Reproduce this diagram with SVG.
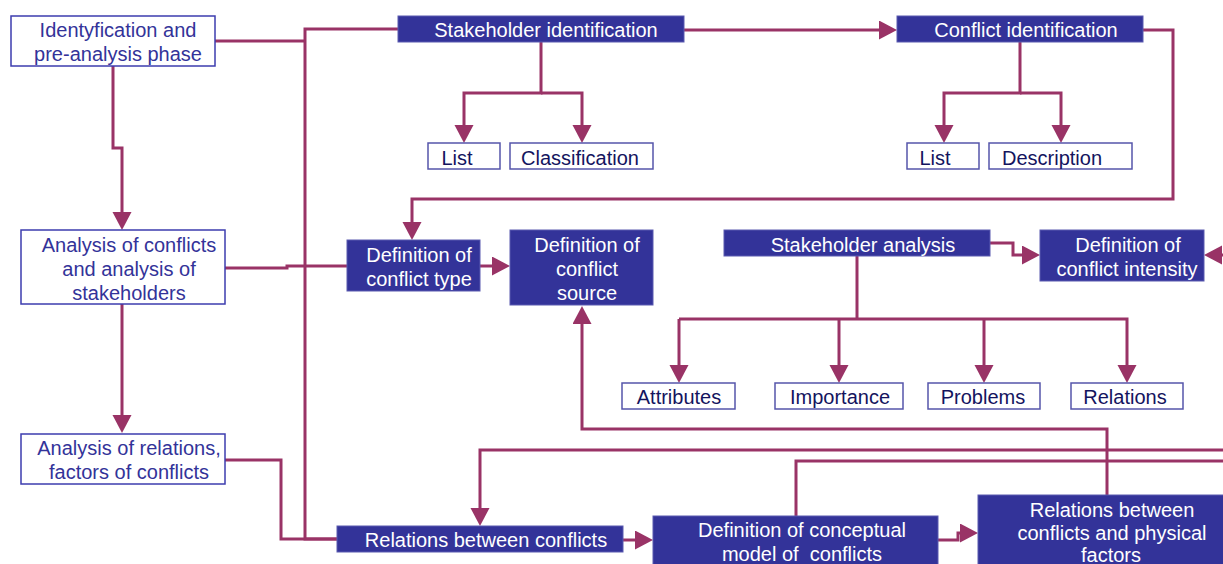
<svg xmlns="http://www.w3.org/2000/svg" width="1223" height="564" viewBox="0 0 1223 564">
<style>
.ob{fill:#ffffff;stroke:#3d3dae;stroke-width:1.5}
.sb{fill:#ffffff;stroke:#5555aa;stroke-width:1.5}
.fb{fill:#333399;stroke:#5a5ab0;stroke-width:1}
text{font-family:"Liberation Sans",Arial,sans-serif;font-size:20px;text-anchor:middle}
.tl{fill:#333399}
.ts{fill:#14145e}
.tw{fill:#ffffff}
.c{fill:none;stroke:#993366;stroke-width:3}
</style>
<defs>
<marker id="ah" markerUnits="userSpaceOnUse" markerWidth="18" markerHeight="20" refX="10" refY="9.5" orient="auto">
<path d="M0,0 L18,9.5 L0,19 z" fill="#993366"/>
</marker>
</defs>
<g id="connectors">
<path class="c" d="M215,41 H305"/>
<path class="c" d="M398,29 H305 V539 H337"/>
<path class="c" d="M113,66 V148 H122 V222" marker-end="url(#ah)"/>
<path class="c" d="M122,304 V425" marker-end="url(#ah)"/>
<path class="c" d="M225,460 H281 V539 H337"/>
<path class="c" d="M225,268 H287 V266 H347"/>
<path class="c" d="M684,30 H889" marker-end="url(#ah)"/>
<path class="c" d="M541,42 V93 H464 V135" marker-end="url(#ah)"/>
<path class="c" d="M541,93 H582 V135" marker-end="url(#ah)"/>
<path class="c" d="M1020,42 V93 H944 V135" marker-end="url(#ah)"/>
<path class="c" d="M1020,93 H1061 V135" marker-end="url(#ah)"/>
<path class="c" d="M1143,30 H1173 V199 H412 V232" marker-end="url(#ah)"/>
<path class="c" d="M480,266 H502" marker-end="url(#ah)"/>
<path class="c" d="M990,243 H1013 V255 H1032" marker-end="url(#ah)"/>
<path class="c" d="M1232,255 H1212" marker-end="url(#ah)"/>
<path class="c" d="M857,256 V319"/>
<path class="c" d="M679,319 H1127 V375" marker-end="url(#ah)"/>
<path class="c" d="M679,319 V375" marker-end="url(#ah)"/>
<path class="c" d="M839,319 V375" marker-end="url(#ah)"/>
<path class="c" d="M984,319 V375" marker-end="url(#ah)"/>
<path class="c" d="M1107,495 V429 H582 V314" marker-end="url(#ah)"/>
<path class="c" d="M1232,450 H480 V518" marker-end="url(#ah)"/>
<path class="c" d="M1232,461 H796 V516"/>
<path class="c" d="M623,540 H645" marker-end="url(#ah)"/>
<path class="c" d="M938,540 H958 V533 H970" marker-end="url(#ah)"/>
</g>
<g id="n-identification">
<rect class="ob" x="11" y="16" width="204" height="50"/>
<text class="tl" x="118" y="37">Identyfication and</text>
<text class="tl" x="118" y="61">pre-analysis phase</text>
</g>
<g id="n-stakeholder-identification">
<rect class="fb" x="398" y="16" width="286" height="26"/>
<text class="tw" x="546" y="37">Stakeholder identification</text>
</g>
<g id="n-conflict-identification">
<rect class="fb" x="897" y="16" width="246" height="26"/>
<text class="tw" x="1026" y="37">Conflict identification</text>
</g>
<g id="n-list1">
<rect class="sb" x="428" y="143" width="72" height="26"/>
<text class="ts" x="457" y="165">List</text>
</g>
<g id="n-classification">
<rect class="sb" x="510" y="143" width="143" height="26"/>
<text class="ts" x="580" y="165">Classification</text>
</g>
<g id="n-list2">
<rect class="sb" x="907" y="143" width="72" height="26"/>
<text class="ts" x="935" y="165">List</text>
</g>
<g id="n-description">
<rect class="sb" x="989" y="143" width="143" height="26"/>
<text class="ts" x="1052" y="165">Description</text>
</g>
<g id="n-analysis-conflicts">
<rect class="ob" x="21" y="230" width="204" height="74"/>
<text class="tl" x="129" y="252">Analysis of conflicts</text>
<text class="tl" x="129" y="276">and analysis of</text>
<text class="tl" x="129" y="300">stakeholders</text>
</g>
<g id="n-analysis-relations">
<rect class="ob" x="21" y="434" width="204" height="50"/>
<text class="tl" x="129" y="455">Analysis of relations,</text>
<text class="tl" x="129" y="479">factors of conflicts</text>
</g>
<g id="n-conflict-type">
<rect class="fb" x="347" y="240" width="133" height="51"/>
<text class="tw" x="419" y="262">Definition of</text>
<text class="tw" x="419" y="286">conflict type</text>
</g>
<g id="n-conflict-source">
<rect class="fb" x="510" y="230" width="143" height="75"/>
<text class="tw" x="587" y="252">Definition of</text>
<text class="tw" x="587" y="276">conflict</text>
<text class="tw" x="587" y="300">source</text>
</g>
<g id="n-stakeholder-analysis">
<rect class="fb" x="724" y="230" width="266" height="26"/>
<text class="tw" x="863" y="252">Stakeholder analysis</text>
</g>
<g id="n-conflict-intensity">
<rect class="fb" x="1040" y="230" width="164" height="51"/>
<text class="tw" x="1128" y="252">Definition of</text>
<text class="tw" x="1127" y="276">conflict intensity</text>
</g>
<g id="n-attributes">
<rect class="sb" x="622" y="383" width="113" height="26"/>
<text class="ts" x="679" y="404">Attributes</text>
</g>
<g id="n-importance">
<rect class="sb" x="775" y="383" width="128" height="26"/>
<text class="ts" x="840" y="404">Importance</text>
</g>
<g id="n-problems">
<rect class="sb" x="928" y="383" width="112" height="26"/>
<text class="ts" x="983" y="404">Problems</text>
</g>
<g id="n-relations">
<rect class="sb" x="1071" y="383" width="112" height="26"/>
<text class="ts" x="1125" y="404">Relations</text>
</g>
<g id="n-relations-between-conflicts">
<rect class="fb" x="337" y="526" width="286" height="26"/>
<text class="tw" x="486" y="547">Relations between conflicts</text>
</g>
<g id="n-conceptual-model">
<rect class="fb" x="653" y="516" width="285" height="60"/>
<text class="tw" x="802" y="537">Definition of conceptual</text>
<text class="tw" x="802" y="561" xml:space="preserve">model of  conflicts</text>
</g>
<g id="n-physical-factors">
<rect class="fb" x="978" y="495" width="250" height="80"/>
<text class="tw" x="1112" y="517">Relations between</text>
<text class="tw" x="1112" y="540">conflicts and physical</text>
<text class="tw" x="1111" y="562">factors</text>
</g>
</svg>
